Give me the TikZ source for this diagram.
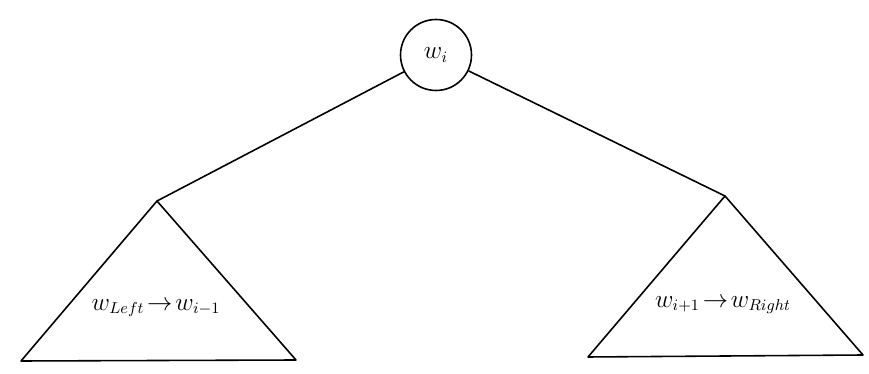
\documentclass[tikz,border=0pt]{standalone}
\usepackage{tkz-euclide}

\begin{document}
\begin{tikzpicture}
\tkzSetUpLine[line width=0.9pt,color=black]
\useasboundingbox (0,0) rectangle (17.38,7.48);

\tkzDefPoints{8.72/6.38/R,3.14/3.46/LT,0.42/0.26/LB,5.92/0.28/LC}
\tkzDefPoints{14.5/3.56/RT,11.76/0.34/RB,17.26/0.38/RC}

\node[circle,draw,line width=0.9pt,minimum size=1.42cm,inner sep=0pt,font=\fontsize{13.5}{16}\selectfont] (wi) at (R) {$w_i$};

\tkzDrawPolygon(LT,LB,LC)
\tkzDrawPolygon(RT,RB,RC)

\draw[line width=0.9pt] (wi) -- (LT);
\draw[line width=0.9pt] (wi) -- (RT);

\node[font=\fontsize{13.5}{16}\selectfont] (lsub) at (3.12,1.32) {$w_{Left}\!\rightarrow\! w_{i-1}$};
\node[font=\fontsize{13.5}{16}\selectfont] (rsub) at (14.46,1.38) {$w_{i+1}\!\rightarrow\! w_{Right}$};

\end{tikzpicture}
\end{document}
